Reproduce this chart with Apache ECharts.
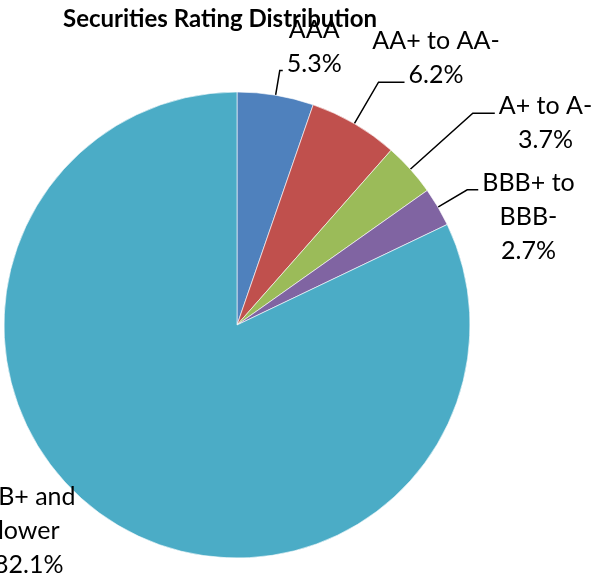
<!DOCTYPE html>
<html><head><meta charset="utf-8">
<script src="https://cdn.jsdelivr.net/npm/echarts@6/dist/echarts.min.js"></script>
<style>html,body{margin:0;padding:0;background:#fff}#c{width:596px;height:582px}</style>
</head><body><div id="c"></div>
<script>
// ---- data ----
const titleText = 'Securities Rating Distribution';
const categories = ['AAA', 'AA+ to AA-', 'A+ to A-', 'BBB+ to BBB-', 'BB+ and lower'];
const labelNameLines = [['AAA'], ['AA+ to AA-'], ['A+ to A-'], ['BBB+ to', 'BBB-'], ['BB+ and', 'lower']];
const values = [5.3, 6.2, 3.7, 2.7, 82.1];
const colors = ['#4F81BD', '#C0504D', '#9BBB59', '#8064A2', '#4BACC6'];

// ---- label styling / placement (not data) ----
const FONT_FAMILY = 'Lato';
const FONT_SIZE = 25;
const LH = 34;
const labelCfg = [
  { length: 25, length2: 3, attach: 1 },
  { length: 48, length2: 26, attach: 1 },
  { length: 84, length2: 22, attach: 0 },
  { length: 34, length2: 11, attach: 0 },
  { length: 0, length2: 0, attach: null, dx: -84, dy: 9 }
];

const ctx = document.createElement('canvas').getContext('2d');
ctx.font = FONT_SIZE + 'px ' + FONT_FAMILY;
function textW(t) { return ctx.measureText(t).width; }
function linesOf(i) { return labelNameLines[i].concat([values[i].toFixed(1) + '%']); }

const data = categories.map((name, i) => {
  const cfg = labelCfg[i];
  const item = {
    name: name,
    value: values[i],
    itemStyle: { color: colors[i] },
    labelLine: { length: cfg.length, length2: cfg.length2 }
  };
  if (cfg.attach == null) item.labelLine.lineStyle = { opacity: 0 };
  return item;
});

const chart = echarts.init(document.getElementById('c'), null, { renderer: 'canvas' });
chart.setOption({
  animation: false,
  backgroundColor: '#fff',
  title: {
    text: titleText,
    left: 58,
    top: 2,
    textStyle: { fontFamily: FONT_FAMILY, fontWeight: 'bold', fontSize: 24, color: '#000' }
  },
  series: [{
    type: 'pie',
    center: [237, 325],
    radius: 233,
    startAngle: 90,
    clockwise: true,
    avoidLabelOverlap: false,
    minShowLabelAngle: 0,
    itemStyle: { borderColor: 'rgba(255,255,255,0.6)', borderWidth: 1 },
    label: {
      show: true,
      position: 'outside',
      formatter: p => linesOf(p.dataIndex).join('\n'),
      fontFamily: FONT_FAMILY,
      fontSize: FONT_SIZE,
      lineHeight: LH,
      color: '#000',
      align: 'center'
    },
    labelLine: { show: true, lineStyle: { color: '#000', width: 1.5 }, smooth: false },
    labelLayout: function (p) {
      const i = p.dataIndex;
      const cfg = labelCfg[i];
      const pts = p.labelLinePoints;
      const lines = linesOf(i);
      if (cfg.attach == null) {
        const e = pts[0];
        return { x: e[0] + cfg.dx, y: e[1] + cfg.dy - lines.length * LH / 2, align: 'center', verticalAlign: 'top' };
      }
      const end = pts[2];
      const w = textW(lines[cfg.attach]);
      return {
        x: end[0] + 4 + w / 2,
        y: end[1] - 7 - LH * cfg.attach - LH / 2,
        align: 'center',
        verticalAlign: 'top',
        labelLinePoints: pts
      };
    },
    data: data
  }]
});
</script>
</body></html>
